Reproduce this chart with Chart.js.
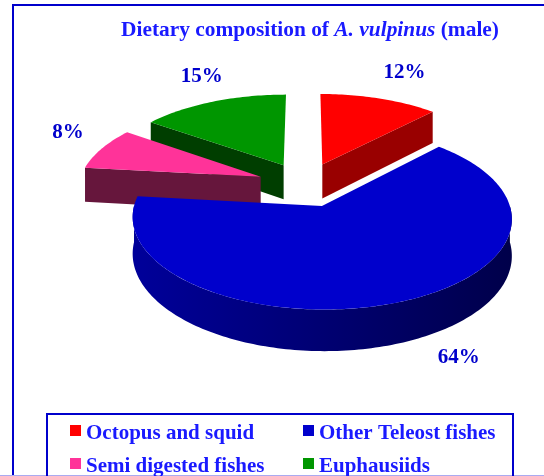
<!DOCTYPE html>
<html>
<head>
<meta charset="utf-8">
<script src="https://cdn.jsdelivr.net/npm/chart.js@4.4.1/dist/chart.umd.min.js"></script>
<style>
  html, body { margin: 0; padding: 0; background: #fff; }
  #wrap { width: 544px; height: 476px; }
</style>
</head>
<body>
<div id="wrap"><canvas id="myChart" width="544" height="476"></canvas></div>
<script>
// Chart data
const categories = ["Octopus and squid", "Other Teleost fishes", "Semi digested fishes", "Euphausiids"];
const shares = [12, 64, 8, 15];
const topColors = ["#ff0000", "#0000cc", "#ff3399", "#009600"];
const sideColors = ["#990000", "#00009a", "#66163c", "#003e00"];

// 3D look
const TILT = 0.463;     // vertical squash of the pie plane
const PERSP = 0.0007;   // perspective strength
const DEPTH = 35;       // thickness of the pie
const LABEL_GAP = 60;   // label distance beyond the rim
const LABEL_SHIFT = [20, -7];
const LABEL_LEAN = 12;  // labels at the front drift right, at the back left
const FONT = "'Liberation Serif', 'Times New Roman', serif";
const TEXT_BLUE = "#0000cc";

function project(cx, cy, x, y, z) {
  const p = 1 / (1 - y * PERSP);
  return [cx + x * p, cy + (y * TILT + z) * p];
}

function shade(hex, k) {
  const n = parseInt(hex.slice(1), 16);
  const r = Math.round(((n >> 16) & 255) * k);
  const g = Math.round(((n >> 8) & 255) * k);
  const b = Math.round((n & 255) * k);
  return `rgb(${r},${g},${b})`;
}

function fillPoly(ctx, pts, fill) {
  ctx.beginPath();
  pts.forEach((q, i) => (i ? ctx.lineTo(q[0], q[1]) : ctx.moveTo(q[0], q[1])));
  ctx.closePath();
  ctx.fillStyle = fill;
  ctx.fill();
}

// Draw one exploded slice with its visible side faces
function drawSlice(ctx, s) {
  const { cx, cy, a0, a1, r, ox, oy, top, side } = s;
  const pt = (ang, rad, z) =>
    project(cx, cy, ox + rad * Math.cos(ang), oy + rad * Math.sin(ang), z);
  const rim = (from, to, z) => {
    const n = Math.max(2, Math.ceil(Math.abs(to - from) / 0.02));
    const out = [];
    for (let i = 0; i <= n; i++) out.push(pt(from + ((to - from) * i) / n, r, z));
    return out;
  };

  // flat cut faces
  if (Math.cos(a0) < -1e-6) {
    fillPoly(ctx, [pt(a0, 0, 0), pt(a0, r, 0), pt(a0, r, DEPTH), pt(a0, 0, DEPTH)], side);
  }
  if (Math.cos(a1) > 1e-6) {
    fillPoly(ctx, [pt(a1, 0, 0), pt(a1, r, 0), pt(a1, r, DEPTH), pt(a1, 0, DEPTH)], side);
  }

  // curved outer side (front half only)
  const f0 = Math.max(a0, 0);
  const f1 = Math.min(a1, Math.PI);
  if (f1 > f0) {
    const pts = rim(f0, f1, 0).concat(rim(f0, f1, DEPTH).reverse());
    const xs = pts.map((q) => q[0]);
    const grad = ctx.createLinearGradient(Math.min(...xs), 0, Math.max(...xs), 0);
    grad.addColorStop(0, side);
    grad.addColorStop(1, shade(side, 0.48));
    fillPoly(ctx, pts, grad);
  }

  // top face
  fillPoly(ctx, [pt(a0, 0, 0)].concat(rim(a0, a1, 0)), top);
}

function sliceInfo(chart) {
  const meta = chart.getDatasetMeta(0);
  return meta.data.map((arc, i) => {
    const p = arc.getProps(["x", "y", "startAngle", "endAngle", "outerRadius"], true);
    const mid = (p.startAngle + p.endAngle) / 2;
    const off = arc.options.offset || 0;
    return {
      index: i,
      cx: p.x,
      cy: p.y,
      a0: p.startAngle,
      a1: p.endAngle,
      r: p.outerRadius,
      mid: mid,
      off: off,
      ox: off * Math.cos(mid),
      oy: off * Math.sin(mid),
      top: topColors[i],
      side: sideColors[i],
    };
  });
}

const pie3d = {
  id: "pie3d",
  beforeDatasetsDraw(chart) {
    const ctx = chart.ctx;
    const slices = sliceInfo(chart).sort((a, b) => Math.sin(a.mid) - Math.sin(b.mid));
    ctx.save();
    slices.forEach((s) => drawSlice(ctx, s));
    ctx.restore();

    // percentage labels
    ctx.save();
    ctx.font = `bold 21px ${FONT}`;
    ctx.fillStyle = TEXT_BLUE;
    ctx.textAlign = "center";
    ctx.textBaseline = "middle";
    sliceInfo(chart).forEach((s) => {
      const t = s.r + s.off + LABEL_GAP;
      const z = DEPTH * 0.6 * Math.max(0, Math.sin(s.mid));
      const q = project(s.cx, s.cy, t * Math.cos(s.mid), t * Math.sin(s.mid), z);
      const lx = q[0] + LABEL_SHIFT[0] + LABEL_LEAN * Math.sin(s.mid);
      ctx.fillText(shares[s.index] + "%", lx, q[1] + LABEL_SHIFT[1]);
    });
    ctx.restore();
    return false; // skip the flat default pie
  },
  afterDraw(chart) {
    const ctx = chart.ctx;
    ctx.save();

    // outer frame
    ctx.strokeStyle = "#0000cc";
    ctx.lineWidth = 2;
    ctx.strokeRect(13, 5, 620, 520);
    ctx.strokeStyle = "#aaaaf0";
    ctx.lineWidth = 1;
    ctx.beginPath();
    ctx.moveTo(0, 475.5);
    ctx.lineTo(544, 475.5);
    ctx.stroke();

    // title with italic species name
    const runs = [
      ["Dietary composition of ", "bold"],
      ["A. vulpinus", "italic bold"],
      [" (male)", "bold"],
    ];
    const widths = runs.map(([txt, st]) => {
      ctx.font = `${st} 21.4px ${FONT}`;
      return ctx.measureText(txt).width;
    });
    let x = 310 - widths.reduce((a, b) => a + b, 0) / 2;
    ctx.fillStyle = "#1a1aff";
    ctx.textBaseline = "alphabetic";
    ctx.textAlign = "left";
    runs.forEach(([txt, st], i) => {
      ctx.font = `${st} 21.4px ${FONT}`;
      ctx.fillText(txt, x, 36);
      x += widths[i];
    });

    // legend box, two columns
    ctx.strokeStyle = "#0000cc";
    ctx.lineWidth = 2;
    ctx.strokeRect(47, 414, 466, 90);
    ctx.font = `bold 21px ${FONT}`;
    categories.forEach((name, i) => {
      const col = i % 2;
      const row = Math.floor(i / 2);
      const lx = 70 + col * 233;
      const ly = 439 + row * 33;
      ctx.fillStyle = topColors[i];
      ctx.fillRect(lx, ly - 14, 11, 11);
      ctx.fillStyle = "#1a1aff";
      ctx.fillText(name, lx + 16, ly);
    });
    ctx.restore();
  },
};

const ctx = document.getElementById("myChart");
new Chart(ctx, {
  type: "pie",
  data: {
    labels: categories,
    datasets: [
      {
        data: shares,
        backgroundColor: topColors,
        borderWidth: 0,
        offset: 48, // every slice pulled out a little
      },
    ],
  },
  options: {
    responsive: false,
    animation: false,
    events: [],
    radius: 182,
    layout: { padding: { left: 66, right: 0, top: 0, bottom: 107 } },
    plugins: {
      legend: { display: false },
      tooltip: { enabled: false },
      title: { display: false },
    },
  },
  plugins: [pie3d],
});
</script>
</body>
</html>
